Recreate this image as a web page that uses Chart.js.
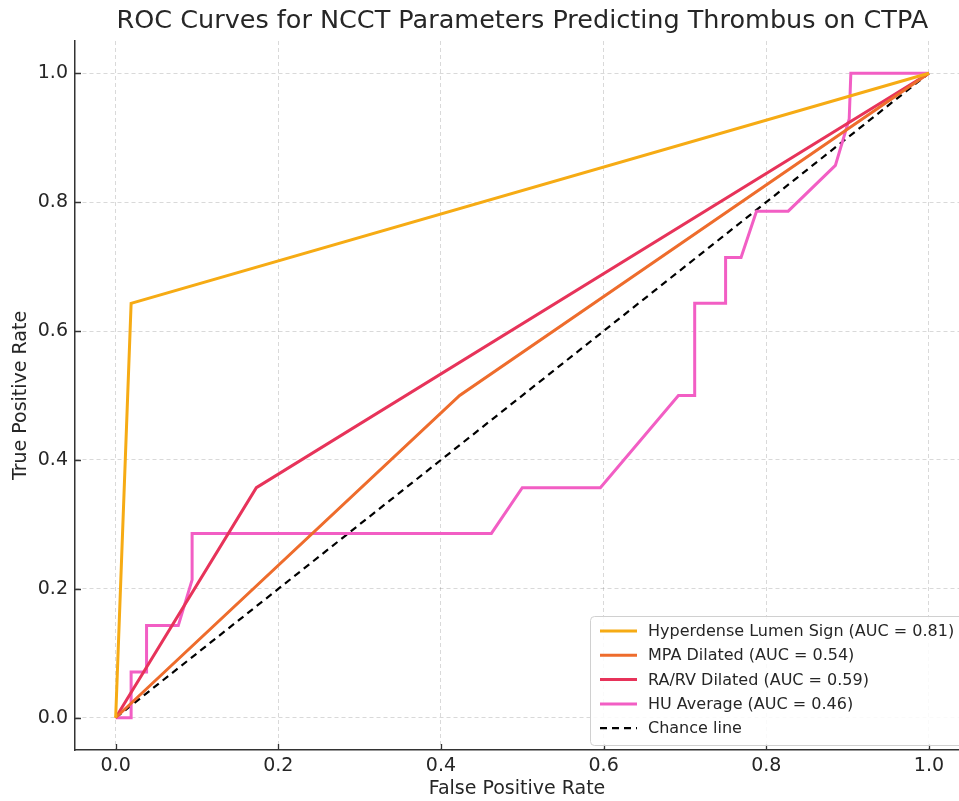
<!DOCTYPE html>
<html>
<head>
<meta charset="utf-8">
<title>ROC Curves</title>
<script src="https://cdn.jsdelivr.net/npm/chart.js@4.4.1/dist/chart.umd.min.js"></script>
<style>
    html, body { margin: 0; padding: 0; background: #ffffff; }
    #wrap { width: 959px; height: 801px; }
</style>
</head>
<body>
<div id="wrap"><canvas id="rocChart" width="959" height="801"></canvas></div>
<script>
// values
const chartTitle = 'ROC Curves for NCCT Parameters Predicting Thrombus on CTPA';
const xTitle = 'False Positive Rate';
const yTitle = 'True Positive Rate';

const xTicks = [0.0, 0.2, 0.4, 0.6, 0.8, 1.0];
const yTicks = [0.0, 0.2, 0.4, 0.6, 0.8, 1.0];

const seriesLabels = [
    'Hyperdense Lumen Sign (AUC = 0.81)',
    'MPA Dilated (AUC = 0.54)',
    'RA/RV Dilated (AUC = 0.59)',
    'HU Average (AUC = 0.46)',
    'Chance line'
];

const hyperFpr = [0, 0.019, 1];
const hyperTpr = [0, 0.643, 1];

const mpaFpr = [0, 0.423, 1];
const mpaTpr = [0, 0.5, 1];

const rarvFpr = [0, 0.173, 1];
const rarvTpr = [0, 0.357, 1];

const huFpr = [0, 0.019, 0.019, 0.038, 0.038, 0.077, 0.094, 0.094, 0.462, 0.5, 0.596, 0.692, 0.712, 0.712, 0.75, 0.75, 0.769, 0.788, 0.827, 0.885, 0.902, 0.904, 1];
const huTpr = [0, 0, 0.071, 0.071, 0.143, 0.143, 0.214, 0.286, 0.286, 0.357, 0.357, 0.5, 0.5, 0.643, 0.643, 0.714, 0.714, 0.786, 0.786, 0.857, 0.929, 1, 1];

const chanceFpr = [0, 1];
const chanceTpr = [0, 1];

const colors = ['#f6ab14', '#ee6c2c', '#e7335a', '#f25ec4', '#000000'];

function toPoints(xs, ys) {
    return xs.map((x, i) => ({ x: x, y: ys[i] }));
}

const FONT = 'DejaVu Sans';
const TEXT_COLOR = '#262626';
const SPINE_COLOR = '#333333';

// title, inward tick marks and the boxed legend, drawn matplotlib-style
const decorPlugin = {
    id: 'decor',
    afterDraw(chart) {
        const ctx = chart.ctx;
        const xs = chart.scales.x;
        const ys = chart.scales.y;
        const area = chart.chartArea;
        ctx.save();

        // title centered over the axes
        ctx.fillStyle = TEXT_COLOR;
        ctx.font = '25.5px "' + FONT + '"';
        ctx.textAlign = 'center';
        ctx.textBaseline = 'middle';
        ctx.fillText(chartTitle, xs.getPixelForValue(0.5), 21);

        // inward ticks
        ctx.strokeStyle = SPINE_COLOR;
        ctx.lineWidth = 1.3;
        ctx.beginPath();
        xTicks.forEach(v => {
            const px = Math.round(xs.getPixelForValue(v)) + 0.5;
            ctx.moveTo(px, area.bottom);
            ctx.lineTo(px, area.bottom - 6);
        });
        yTicks.forEach(v => {
            const py = Math.round(ys.getPixelForValue(v)) + 0.5;
            ctx.moveTo(area.left, py);
            ctx.lineTo(area.left + 6, py);
        });
        ctx.stroke();

        // legend
        const lx = 590.5, ly = 616.5, lw = 400, lh = 129;
        ctx.beginPath();
        ctx.roundRect(lx, ly, lw, lh, 4);
        ctx.fillStyle = 'rgba(255,255,255,0.85)';
        ctx.fill();
        ctx.strokeStyle = '#d0d0d0';
        ctx.lineWidth = 1;
        ctx.stroke();

        ctx.font = '16px "' + FONT + '"';
        ctx.textAlign = 'left';
        ctx.textBaseline = 'middle';
        chart.data.datasets.forEach((ds, i) => {
            const cy = 631 + i * 24.3;
            ctx.beginPath();
            ctx.strokeStyle = ds.borderColor;
            ctx.lineWidth = ds.borderWidth;
            ctx.setLineDash(ds.borderDash || []);
            ctx.moveTo(600, cy);
            ctx.lineTo(637, cy);
            ctx.stroke();
            ctx.setLineDash([]);
            ctx.fillStyle = TEXT_COLOR;
            ctx.fillText(ds.label, 648, cy + 1);
        });
        ctx.restore();
    }
};

const ctx = document.getElementById('rocChart').getContext('2d');
new Chart(ctx, {
    type: 'scatter',
    data: {
        datasets: [
            {
                label: seriesLabels[0],
                data: toPoints(hyperFpr, hyperTpr),
                borderColor: colors[0],
                borderWidth: 3
            },
            {
                label: seriesLabels[1],
                data: toPoints(mpaFpr, mpaTpr),
                borderColor: colors[1],
                borderWidth: 3
            },
            {
                label: seriesLabels[2],
                data: toPoints(rarvFpr, rarvTpr),
                borderColor: colors[2],
                borderWidth: 3
            },
            {
                label: seriesLabels[3],
                data: toPoints(huFpr, huTpr),
                borderColor: colors[3],
                borderWidth: 3
            },
            {
                label: seriesLabels[4],
                data: toPoints(chanceFpr, chanceTpr),
                borderColor: colors[4],
                borderWidth: 2.2,
                borderDash: [7, 5]
            }
        ].map(ds => Object.assign(ds, {
            showLine: true,
            tension: 0,
            pointRadius: 0,
            pointHoverRadius: 0,
            backgroundColor: ds.borderColor
        }))
    },
    options: {
        responsive: false,
        animation: false,
        devicePixelRatio: 1,
        layout: {
            padding: { top: 41, right: 0, bottom: 0, left: 0 }
        },
        plugins: {
            legend: { display: false },
            title: { display: false },
            tooltip: { enabled: false }
        },
        scales: {
            x: {
                type: 'linear',
                min: -0.05,
                max: 1.037,
                afterBuildTicks: scale => { scale.ticks = xTicks.map(v => ({ value: v })); },
                afterFit: scale => { scale.height = 51; },
                grid: {
                    color: 'rgba(0,0,0,0.15)',
                    drawTicks: false
                },
                border: { display: true, color: SPINE_COLOR, width: 1.5, dash: [4, 3] },
                ticks: {
                    padding: 5,
                    color: TEXT_COLOR,
                    font: { family: FONT, size: 19 },
                    maxRotation: 0,
                    callback: v => v.toFixed(1)
                },
                title: {
                    display: true,
                    text: xTitle,
                    color: TEXT_COLOR,
                    font: { family: FONT, size: 19 },
                    padding: { top: 0, bottom: 1 }
                }
            },
            y: {
                type: 'linear',
                min: -0.05,
                max: 1.05,
                afterBuildTicks: scale => { scale.ticks = yTicks.map(v => ({ value: v })); },
                afterFit: scale => { scale.width = 75; },
                grid: {
                    color: 'rgba(0,0,0,0.15)',
                    drawTicks: false
                },
                border: { display: true, color: SPINE_COLOR, width: 1.5, dash: [4, 3] },
                ticks: {
                    padding: 7,
                    color: TEXT_COLOR,
                    font: { family: FONT, size: 19 },
                    callback: v => v.toFixed(1)
                },
                title: {
                    display: true,
                    text: yTitle,
                    color: TEXT_COLOR,
                    font: { family: FONT, size: 19 },
                    padding: { top: 10, bottom: 0 }
                }
            }
        }
    },
    plugins: [decorPlugin]
});
</script>
</body>
</html>
